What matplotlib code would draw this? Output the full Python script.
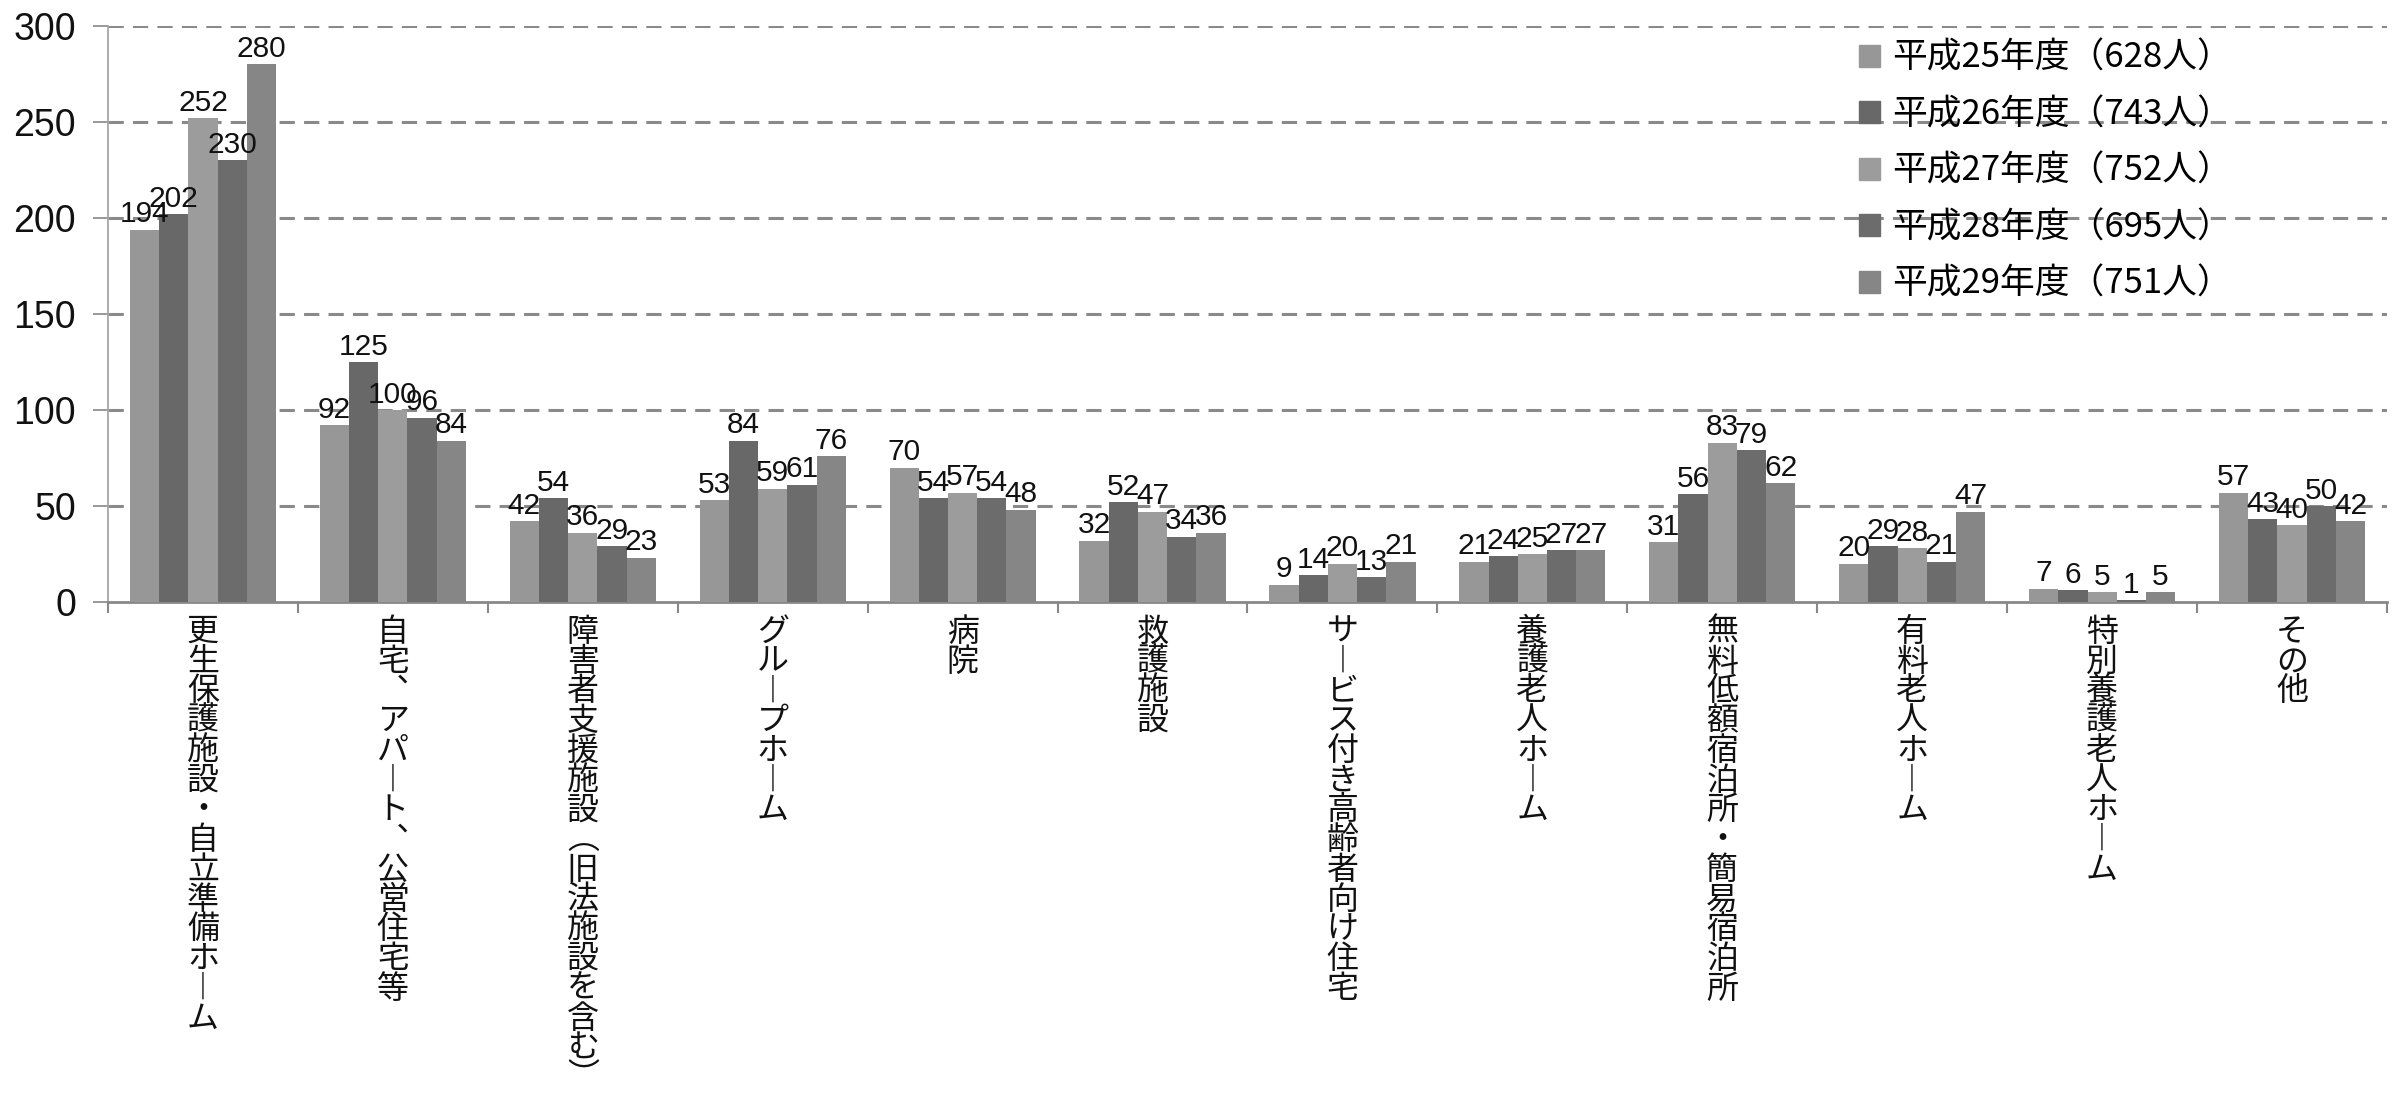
import matplotlib
matplotlib.use("Agg")
import matplotlib.pyplot as plt
import matplotlib.patches as mpatches
import matplotlib.transforms as mtransforms
import numpy as np

# ---- data -------------------------------------------------------------
categories = [
    "更生保護施設・自立準備ホーム",
    "自宅、アパート、公営住宅等",
    "障害者支援施設（旧法施設を含む）",
    "グループホーム",
    "病院",
    "救護施設",
    "サービス付き高齢者向け住宅",
    "養護老人ホーム",
    "無料低額宿泊所・簡易宿泊所",
    "有料老人ホーム",
    "特別養護老人ホーム",
    "その他",
]
series_labels = [
    "平成25年度（628人）",
    "平成26年度（743人）",
    "平成27年度（752人）",
    "平成28年度（695人）",
    "平成29年度（751人）",
]
h25 = [194, 92, 42, 53, 70, 32, 9, 21, 31, 20, 7, 57]
h26 = [202, 125, 54, 84, 54, 52, 14, 24, 56, 29, 6, 43]
h27 = [252, 100, 36, 59, 57, 47, 20, 25, 83, 28, 5, 40]
h28 = [230, 96, 29, 61, 54, 34, 13, 27, 79, 21, 1, 50]
h29 = [280, 84, 23, 76, 48, 36, 21, 27, 62, 47, 5, 42]
series = [h25, h26, h27, h28, h29]
y_ticks = [0, 50, 100, 150, 200, 250, 300]

colors = ["#979797", "#686868", "#9c9c9c", "#6c6c6c", "#868686"]

CJK = ["Noto Sans CJK JP", "DejaVu Sans"]
NUM = ["Liberation Sans Narrow", "Liberation Sans", "DejaVu Sans"]

# vertical presentation forms for stacked category labels
VERT = {"ー": "︱", "、": "︑", "（": "︵", "）": "︶"}


def stack(text):
    return "\n".join(VERT.get(c, c) for c in text)


W, H = 2404, 1097
fig = plt.figure(figsize=(W / 100, H / 100), dpi=100)
ax = fig.add_axes([108 / W, 1 - 602 / H, (2387 - 108) / W, (602 - 26) / H])

n = len(series)
x = np.arange(len(categories))
bar_w = 0.154
for i, (vals, col) in enumerate(zip(series, colors)):
    pos = x + (i - (n - 1) / 2) * bar_w
    bars = ax.bar(pos, vals, width=bar_w, color=col, zorder=3,
                  label=series_labels[i])
    for b, v in zip(bars, vals):
        ax.annotate(str(v), (b.get_x() + b.get_width() / 2, v),
                    xytext=(0, 1), textcoords="offset points",
                    ha="center", va="bottom", fontsize=21.5,
                    family=NUM, color="#111111", zorder=5)

ax.set_xlim(-0.5, len(categories) - 0.5)
ax.set_ylim(0, 300)
ax.set_yticks(y_ticks)
ax.set_yticklabels([str(t) for t in y_ticks], family=NUM, fontsize=27,
                   color="#111111")
ax.tick_params(axis="y", length=11, width=1.2, color="#888888", pad=12)

# category boundary ticks on the x axis
ax.set_xticks(np.arange(len(categories) + 1) - 0.5)
ax.set_xticklabels([])
ax.tick_params(axis="x", length=8, width=1.5, color="#888888")

for yv in y_ticks[1:]:
    ax.axhline(yv, color="#8a8a8a", lw=2.2, ls=(0, (5, 3)), zorder=1)

for s in ["top", "right"]:
    ax.spines[s].set_visible(False)
ax.spines["left"].set_color("#a0a0a0")
ax.spines["left"].set_linewidth(1.2)
ax.spines["bottom"].set_color("#888888")
ax.spines["bottom"].set_linewidth(2)

# stacked vertical category labels
trans = mtransforms.blended_transform_factory(ax.transData, ax.transAxes)
for xi, cat in zip(x, categories):
    ax.text(xi, -0.024, stack(cat), transform=trans, ha="center", va="top",
            fontsize=23, family=CJK, linespacing=0.91, color="#111111")

handles = [mpatches.Patch(color=c) for c in colors]
leg = ax.legend(handles, series_labels, loc="upper left",
                bbox_to_anchor=((1845 - 108) / (2387 - 108), 1 - (27 - 26) / 576),
                frameon=False, prop={"family": CJK, "size": 25},
                handlelength=0.6, handleheight=0.6, handletextpad=0.35,
                labelspacing=0.62, borderaxespad=0)

fig.savefig("out.png", dpi=100, facecolor="white")
